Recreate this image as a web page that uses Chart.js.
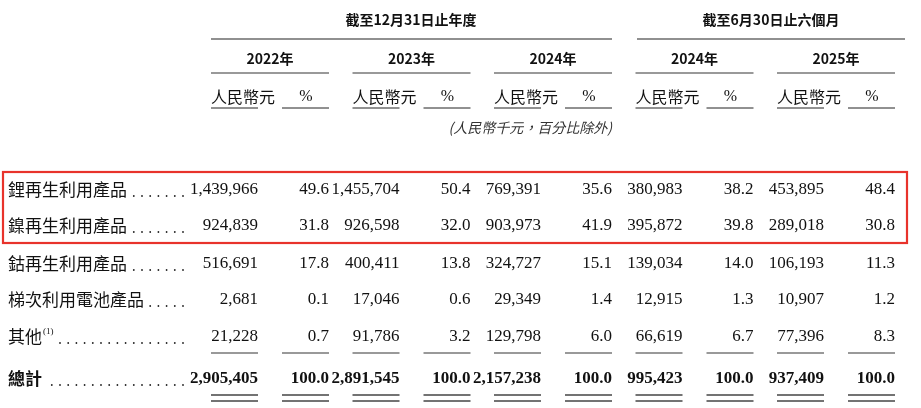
<!DOCTYPE html>
<html><head><meta charset="utf-8">
<script src="https://cdn.jsdelivr.net/npm/chart.js@4"></script>
<style>html,body{margin:0;padding:0;background:#fff}#w{width:921px;height:408px}</style>
</head><body><div id="w"><canvas id="c"></canvas></div>
<script>
const groupHeaders = ["截至12月31日止年度", "截至6月30日止六個月"];
const periods = ["2022年", "2023年", "2024年", "2024年", "2025年"];
const subHeaders = ["人民幣元", "%"];
const unitNote = "(人民幣千元，百分比除外)";
const categories = ["鋰再生利用產品", "鎳再生利用產品", "鈷再生利用產品", "梯次利用電池產品", "其他", "總計"];
const amounts = [
  [1439966, 1455704, 769391, 380983, 453895],
  [924839, 926598, 903973, 395872, 289018],
  [516691, 400411, 324727, 139034, 106193],
  [2681, 17046, 29349, 12915, 10907],
  [21228, 91786, 129798, 66619, 77396],
  [2905405, 2891545, 2157238, 995423, 937409]
];
const shares = [
  [49.6, 50.4, 35.6, 38.2, 48.4],
  [31.8, 32.0, 41.9, 39.8, 30.8],
  [17.8, 13.8, 15.1, 14.0, 11.3],
  [0.1, 0.6, 1.4, 1.3, 1.2],
  [0.7, 3.2, 6.0, 6.7, 8.3],
  [100.0, 100.0, 100.0, 100.0, 100.0]
];

const groupX = [211, 352.5, 494, 635.5, 777];
const rowY = [190, 226, 264, 300, 337, 379];
const SERIF = '"Liberation Serif","Times New Roman",serif';
const CJK = '"Noto Sans CJK TC","Noto Sans CJK SC",sans-serif';

const tablePlugin = {
  id: 'table',
  afterDraw(chart) {
    const ctx = chart.ctx, X = v => chart.scales.x.getPixelForValue(v), Y = v => chart.scales.y.getPixelForValue(v);
    const line = (x1, x2, y, w, c) => { ctx.beginPath(); ctx.strokeStyle = c || '#222'; ctx.lineWidth = w || 1; ctx.moveTo(X(x1), Y(y)); ctx.lineTo(X(x2), Y(y)); ctx.stroke(); };
    const text = (s, x, y, font, align, color) => { ctx.font = font; ctx.textAlign = align; ctx.textBaseline = 'middle'; ctx.fillStyle = color || '#111'; ctx.fillText(s, X(x), Y(y)); };
    ctx.save();
    text(groupHeaders[0], 411, 20, 'bold 14px ' + CJK, 'center');
    text(groupHeaders[1], 771, 20, 'bold 14px ' + CJK, 'center');
    line(211, 612, 39, 1.2); line(637, 905, 39, 1.2);
    periods.forEach((p, i) => {
      const g = groupX[i];
      text(p, g + 59, 59, 'bold 14px ' + CJK, 'center');
      line(g, g + 118, 73, 1.6, '#777');
      text(subHeaders[0], g, 97, '16px ' + CJK, 'left');
      text(subHeaders[1], g + 95, 97, '16px ' + SERIF, 'center');
      line(g, g + 47, 108, 1); line(g + 71, g + 118, 108, 1);
    });
    text(unitNote, 612, 128, 'italic 14px ' + CJK, 'right', '#333');
    categories.forEach((cat, r) => {
      const y = rowY[r], bold = r === categories.length - 1;
      ctx.font = (bold ? 'bold ' : '') + '17px ' + CJK;
      text(cat, 8, y, ctx.font, 'left');
      let w = ctx.measureText(cat).width;
      if (r === 4) { text('(1)', 8 + w + 1, y - 5, '9px ' + SERIF, 'left'); w += 12; }
      // dot leaders with ~8px pitch, ending at 183
      const start = 8 + w + 6;
      ctx.fillStyle = '#222';
      for (let x = 183; x >= start; x -= 8.2) {
        ctx.beginPath(); ctx.arc(X(x), Y(y + 6), 0.9, 0, Math.PI * 2); ctx.fill();
      }
      const f = (bold ? 'bold ' : '') + '17px ' + SERIF;
      amounts[r].forEach((v, i) => {
        const g = groupX[i];
        text(v.toLocaleString('en-US'), g + 47, y, f, 'right');
        text(shares[r][i].toFixed(1), g + 118, y, f, 'right');
      });
    });
    groupX.forEach(g => {
      [[g, g + 47], [g + 71, g + 118]].forEach(([a, b]) => {
        line(a, b, 353, 1.4, '#777');
        line(a, b, 395, 1.4, '#444'); line(a, b, 401, 1.4, '#444');
      });
    });
    ctx.strokeStyle = '#e8332b'; ctx.lineWidth = 2.2;
    ctx.strokeRect(X(3), Y(172), X(907) - X(3), Y(243) - Y(172));
    ctx.restore();
  }
};

new Chart(document.getElementById('c'), {
  type: 'scatter',
  data: { datasets: [{ data: [], pointRadius: 0 }] },
  options: {
    responsive: true, maintainAspectRatio: false, animation: false,
    layout: { padding: 0 },
    plugins: { legend: { display: false }, tooltip: { enabled: false } },
    scales: {
      x: { type: 'linear', min: 0, max: 921, display: false },
      y: { type: 'linear', min: 0, max: 408, reverse: true, display: false }
    }
  },
  plugins: [tablePlugin]
});
</script></body></html>
